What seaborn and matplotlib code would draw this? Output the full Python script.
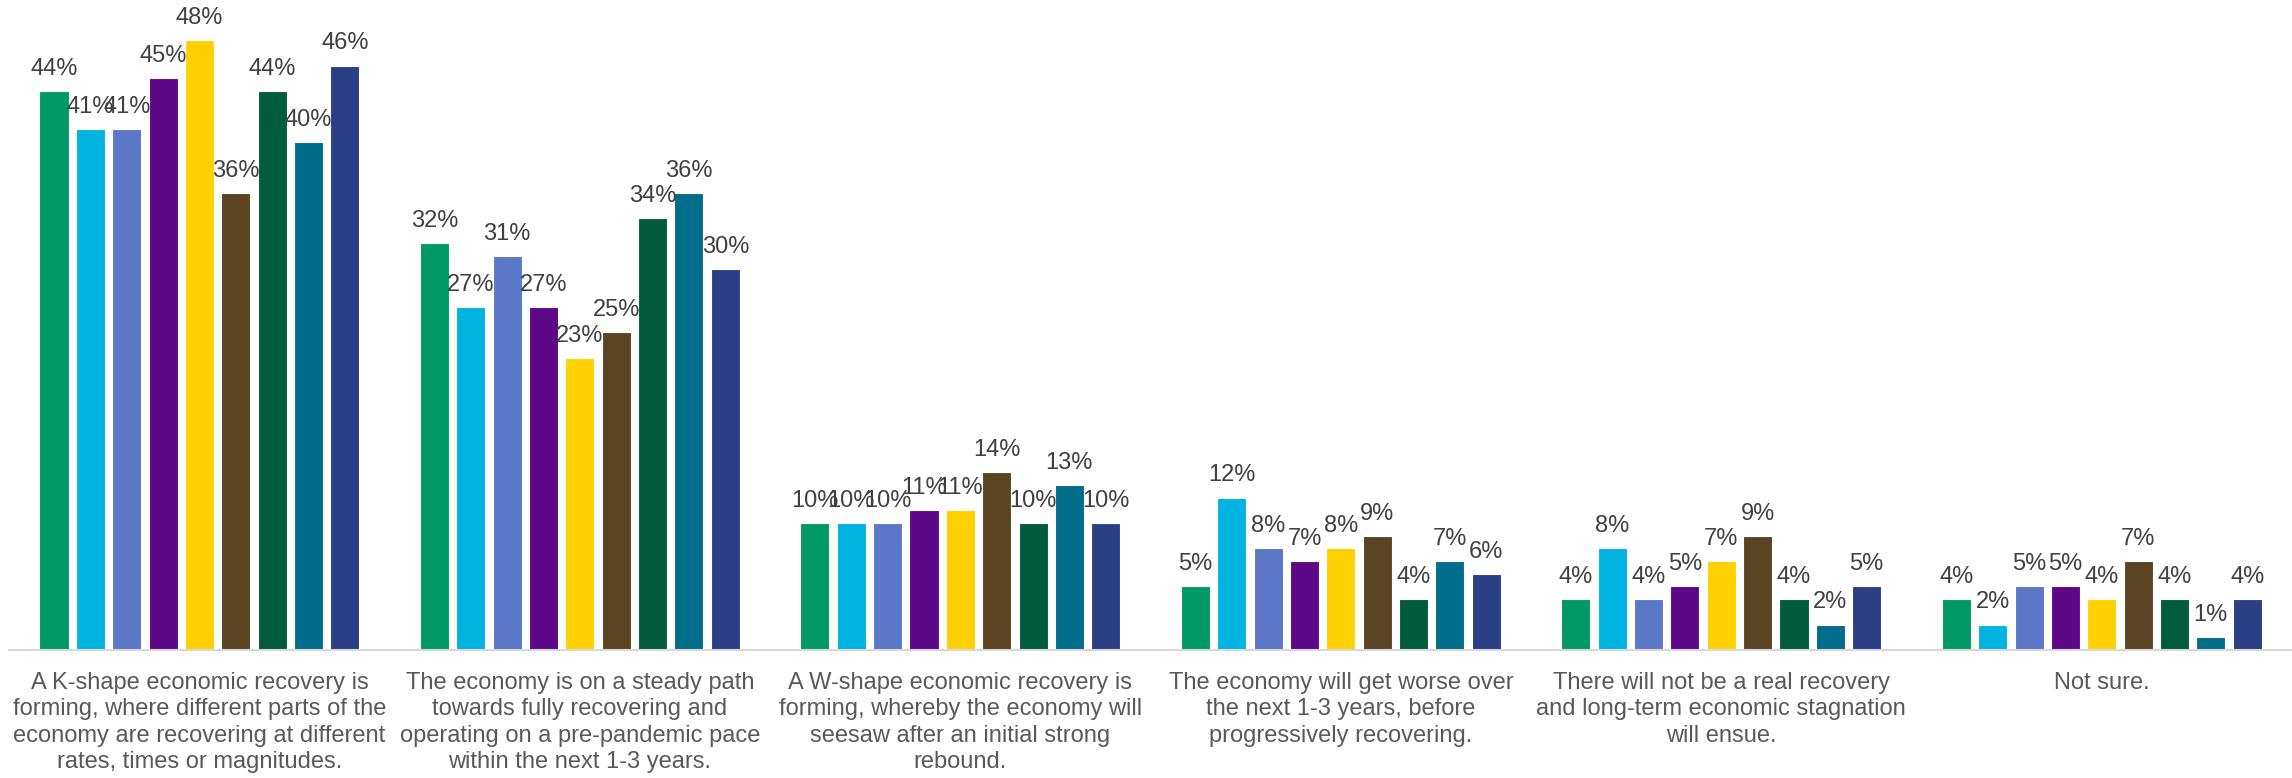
import matplotlib
matplotlib.use("Agg")
import matplotlib.pyplot as plt
import seaborn as sns
import pandas as pd

categories = [
    "A K-shape economic recovery is\nforming, where different parts of the\neconomy are recovering at different\nrates, times or magnitudes.",
    "The economy is on a steady path\ntowards fully recovering and\noperating on a pre-pandemic pace\nwithin the next 1-3 years.",
    "A W-shape economic recovery is\nforming, whereby the economy will\nseesaw after an initial strong\nrebound.",
    "The economy will get worse over\nthe next 1-3 years, before\nprogressively recovering.",
    "There will not be a real recovery\nand long-term economic stagnation\nwill ensue.",
    "Not sure.",
]

series = ["S1", "S2", "S3", "S4", "S5", "S6", "S7", "S8", "S9"]

s1 = [44, 32, 10, 5, 4, 4]
s2 = [41, 27, 10, 12, 8, 2]
s3 = [41, 31, 10, 8, 4, 5]
s4 = [45, 27, 11, 7, 5, 5]
s5 = [48, 23, 11, 8, 7, 4]
s6 = [36, 25, 14, 9, 9, 7]
s7 = [44, 34, 10, 4, 4, 4]
s8 = [40, 36, 13, 7, 2, 1]
s9 = [46, 30, 10, 6, 5, 4]

colors = ["#009966", "#00B4E1", "#5B78C8", "#5C0887", "#FFD100",
          "#5A4422", "#005C3C", "#006D8A", "#2B3F87"]

values = [s1, s2, s3, s4, s5, s6, s7, s8, s9]
rows = []
for name, vals in zip(series, values):
    for cat, v in zip(categories, vals):
        rows.append({"category": cat, "series": name, "value": v})
df = pd.DataFrame(rows)

sns.set_theme(style="white")
plt.rcParams["font.family"] = ["Liberation Sans", "DejaVu Sans"]

fig = plt.figure(figsize=(22.92, 7.78), dpi=100)
ax = fig.add_axes([0.004, 0.1645, 0.996, 0.8165])

sns.barplot(data=df, x="category", y="value", hue="series",
            order=categories, hue_order=series, palette=colors,
            saturation=1, width=0.86, gap=0.2, edgecolor="white",
            linewidth=0.8, legend=False, ax=ax)

for cont in ax.containers:
    ax.bar_label(cont, fmt="{:.0f}%", padding=8, fontsize=17,
                 color="#404040")

ax.set_ylim(0, 50)
ax.set_xlim(-0.5, len(categories) - 0.5)
ax.set_xlabel("")
ax.set_ylabel("")
ax.set_yticks([])
ax.tick_params(axis="x", length=0, pad=16, labelsize=17,
               labelcolor="#595959")
for lbl in ax.get_xticklabels():
    lbl.set_linespacing(1.25)
for side in ["left", "right", "top"]:
    ax.spines[side].set_visible(False)
ax.spines["bottom"].set_color("#D9D9D9")
ax.spines["bottom"].set_linewidth(1.5)

fig.savefig("out.png", dpi=100)
